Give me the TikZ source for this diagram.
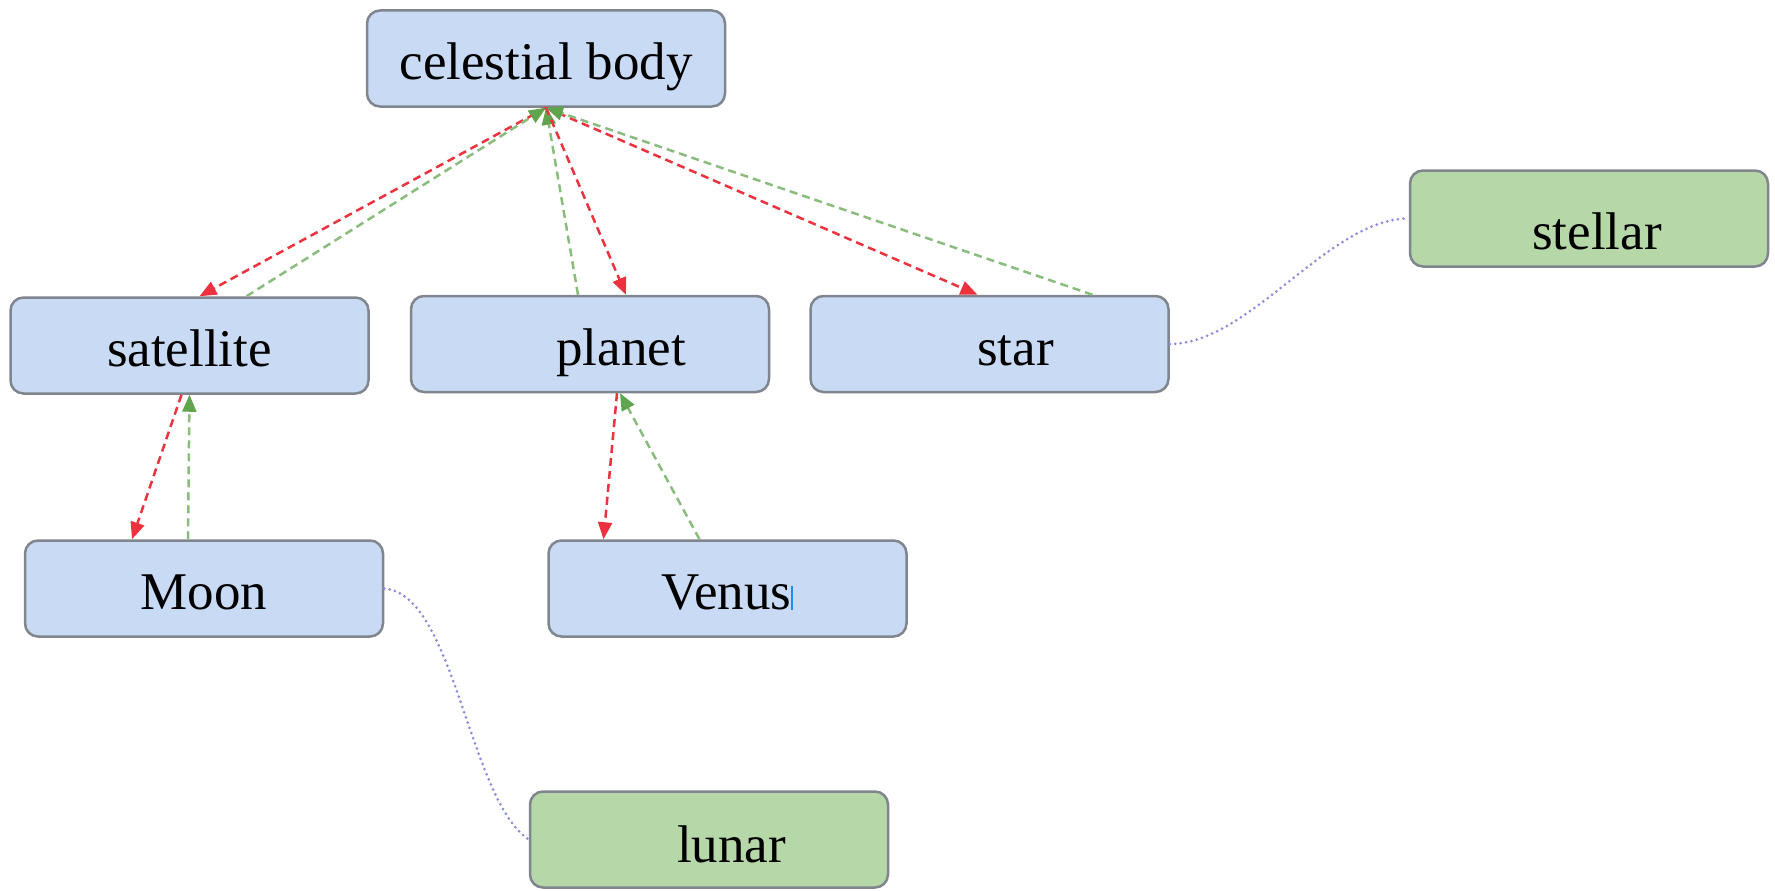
\documentclass[tikz,border=0pt]{standalone}
\usepackage{fontspec}
\setmainfont{Liberation Serif}
\usetikzlibrary{arrows.meta}
\definecolor{boxblue}{RGB}{201,218,245}
\definecolor{boxgreen}{RGB}{182,215,168}
\definecolor{boxline}{RGB}{128,133,142}
\definecolor{isared}{RGB}{236,50,62}
\definecolor{isagreen}{RGB}{138,188,126}
\definecolor{tipgreen}{RGB}{96,164,78}
\definecolor{linkblue}{RGB}{140,140,220}
\definecolor{caret}{RGB}{30,140,240}

\begin{document}
\begin{tikzpicture}[x=1pt,y=-1pt,
  concept/.style={rectangle,rounded corners=13pt,draw=boxline,line width=2.5pt,fill=boxblue,
    minimum width=358pt,minimum height=96pt,inner sep=0pt,text height=42pt,text depth=0pt,
    font=\fontsize{53pt}{60pt}\selectfont},
  word/.style={concept,fill=boxgreen},
  down/.style={isared,line width=2.5pt,dash pattern=on 8pt off 5pt,-{Triangle[length=17pt,width=14pt]}},
  up/.style={isagreen,line width=2.5pt,dash pattern=on 8pt off 5pt,-{Triangle[length=17pt,width=14pt,color=tipgreen]}},
  link/.style={linkblue,line width=3pt,line cap=round,dash pattern=on 0pt off 5.5pt}]
\useasboundingbox (0,0) rectangle (1775,891);
  \node[concept] (body) at (546,58.5) {celestial body};
  \node[concept] (satellite) at (189.5,345.5) {satellite};
  \node[concept] (planet) at (590,344) {\hspace*{62pt}planet};
  \node[concept] (star) at (989.5,344) {\hspace*{52pt}star};
  \node[word] (stellar) at (1589,218.5) {\hspace*{16pt}\raisebox{-10pt}{stellar}};
  \node[concept] (moon) at (204,588.5) {Moon};
  \node[concept] (venus) at (727.5,588.5) {Venus\textcolor{caret}{\rule{2pt}{24pt}}};
  \node[word] (lunar) at (709,839.5) {\hspace*{45pt}\raisebox{-2pt}{lunar}};
  % is-a links
  \draw[down] (body.south) -- ([xshift=10pt]satellite.north);
  \draw[up] ([xshift=57pt]satellite.north) -- (body.south);
  \draw[up] ([xshift=-12pt]planet.north) -- (body.south);
  \draw[down] (body.south) -- ([xshift=36pt]planet.north);
  \draw[down] (body.south) -- ([xshift=-12pt]star.north);
  \draw[up] ([xshift=103pt]star.north) -- (body.south);
  \draw[down] ([xshift=-8pt]satellite.south) -- ([xshift=-72pt]moon.north);
  \draw[up] ([xshift=-16pt]moon.north) -- (satellite.south);
  \draw[down] ([xshift=27pt]planet.south) -- ([xshift=-124pt]venus.north);
  \draw[up] ([xshift=-28pt]venus.north) -- ([xshift=30pt]planet.south);
  % adjectives
  \draw[link] (star.east) .. controls +(80,0) and +(-80,0) .. (stellar.west);
  \draw[link] (moon.east) .. controls +(70,5) and +(-60,-40) .. (lunar.west);
\end{tikzpicture}
\end{document}
